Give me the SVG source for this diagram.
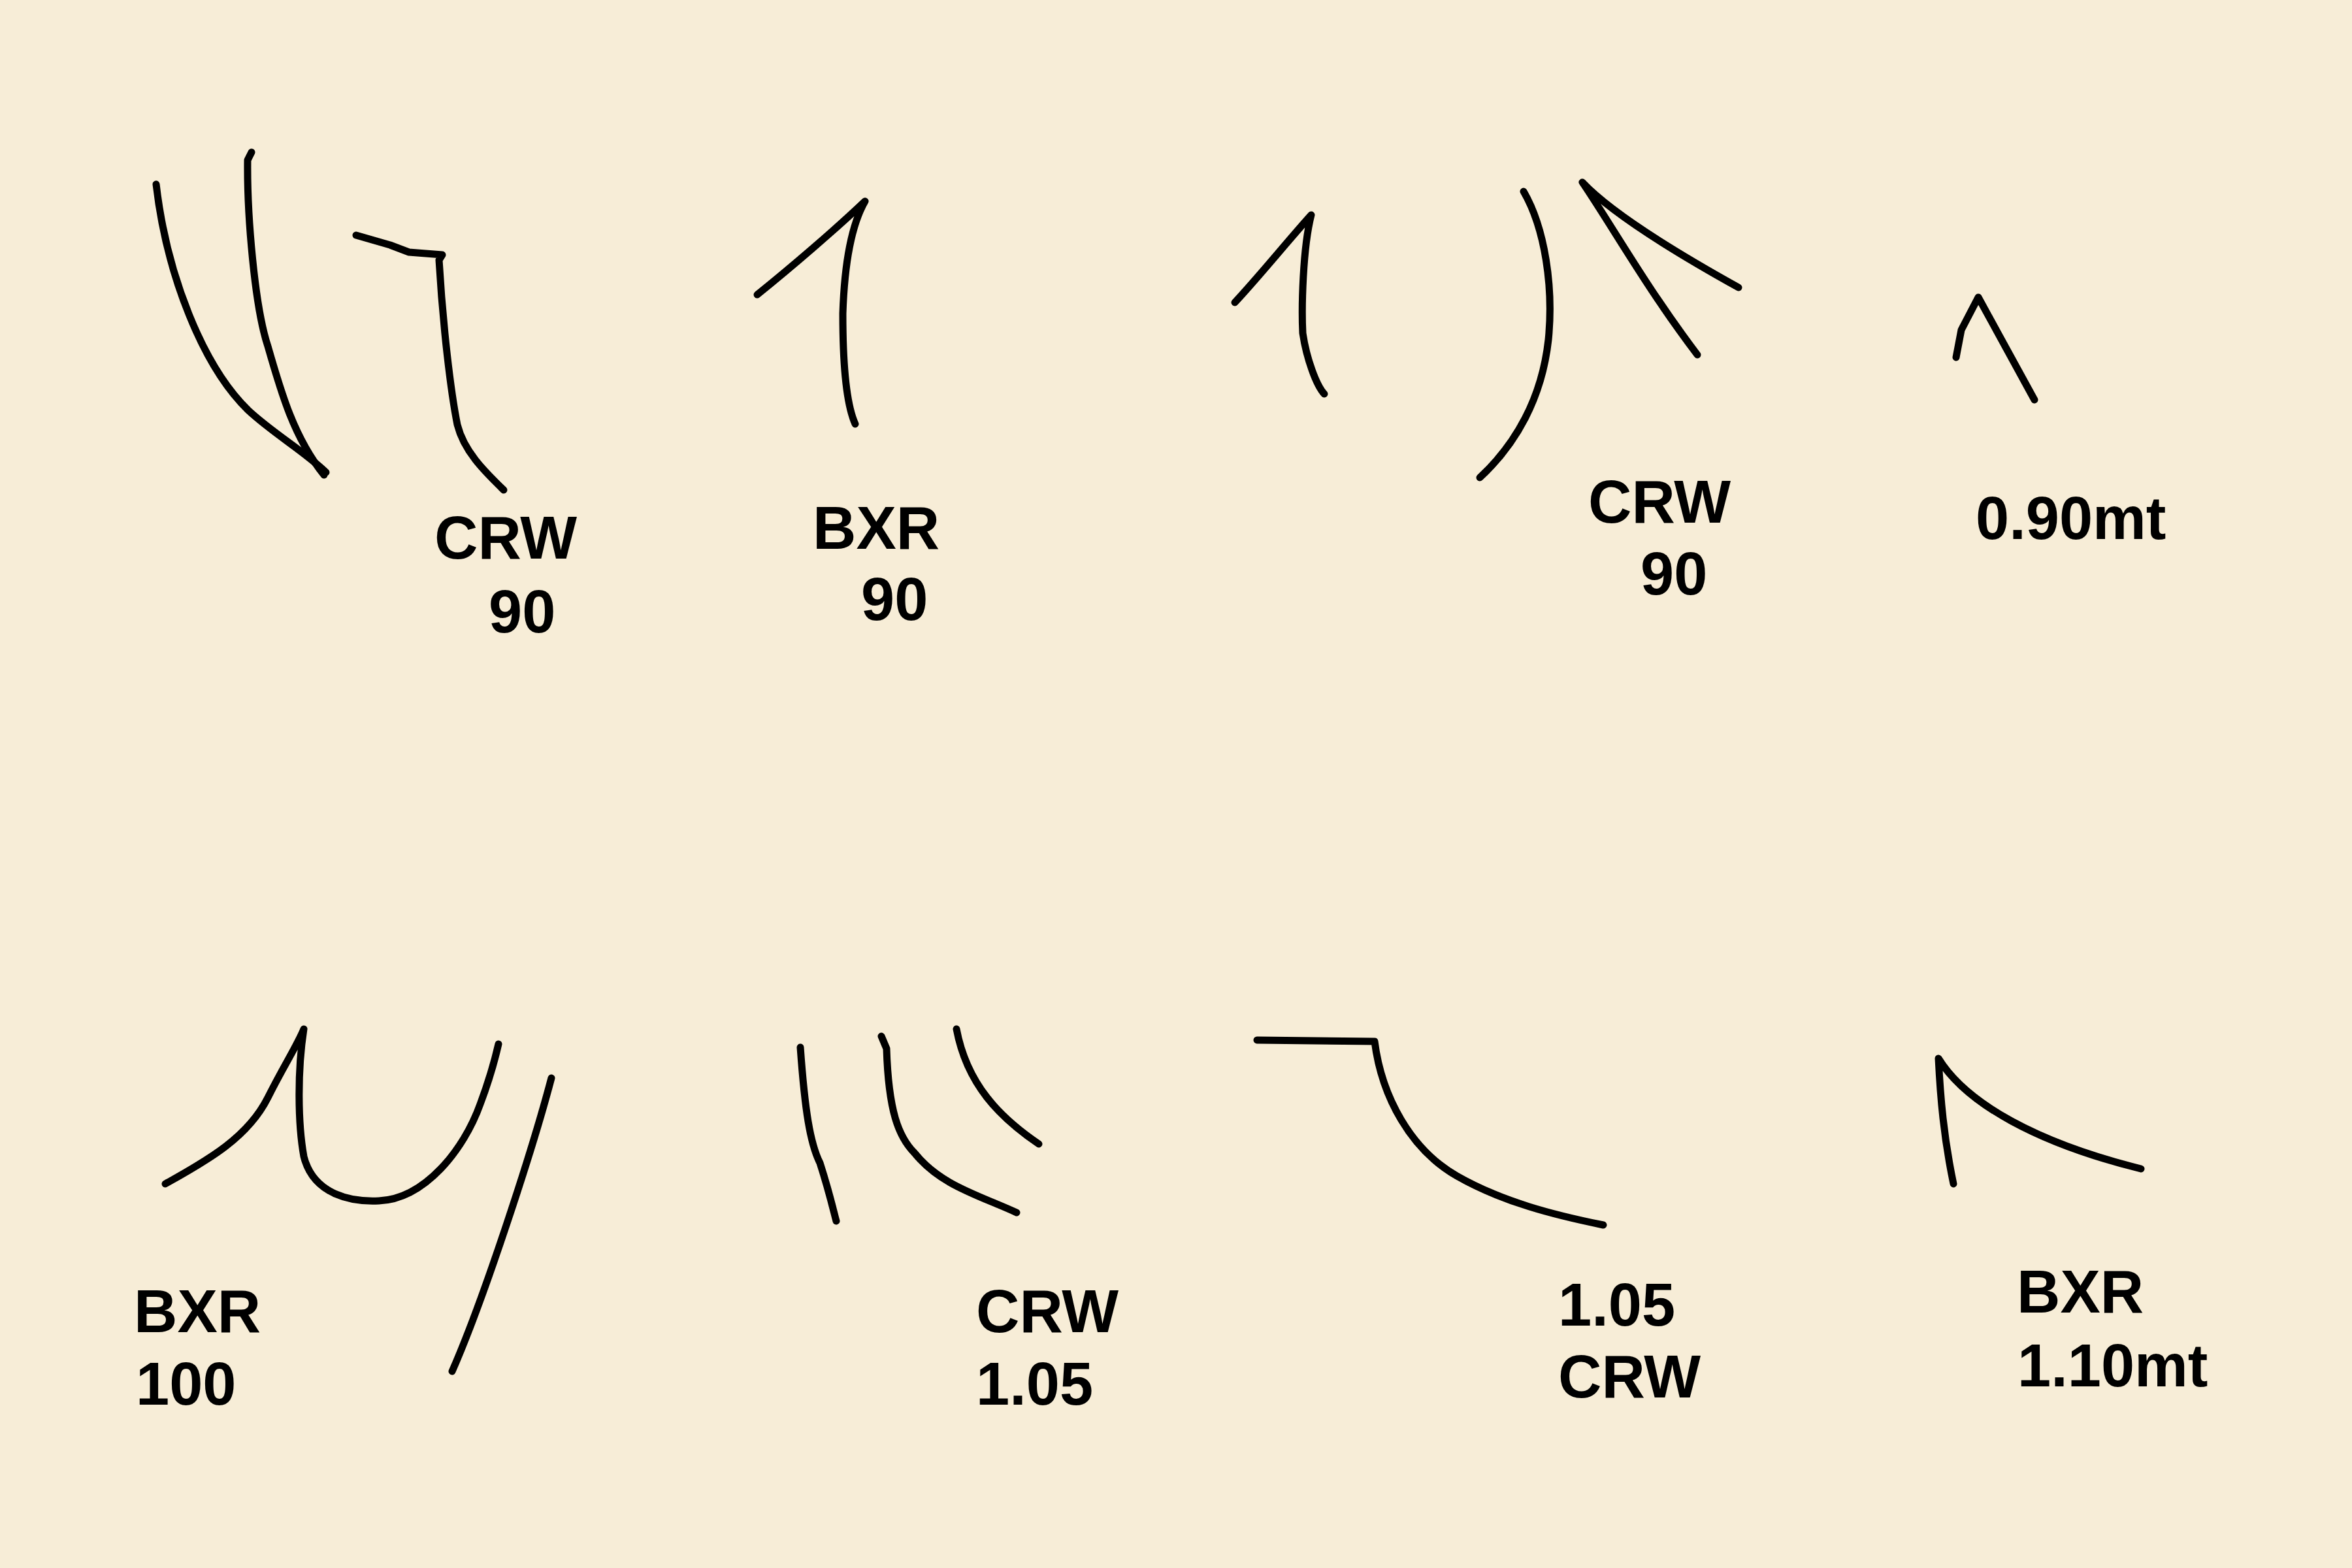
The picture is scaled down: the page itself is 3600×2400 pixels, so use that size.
<svg xmlns="http://www.w3.org/2000/svg" width="3600" height="2400" viewBox="0 0 3600 2400">
<style>
.s{fill:none;stroke:#000;stroke-width:11;stroke-linecap:round;stroke-linejoin:round}
.t{font-family:"Liberation Sans",Arial,sans-serif;font-weight:bold;font-size:92px;fill:#000}
</style>
<rect width="3600" height="2400" fill="#F7EDD7"/>
<g id="strokes">
<path class="s" d="M239,282 C255,420 310,560 380,628 C420,665 465,690 499,723"/>
<path class="s" d="M385,233 L379,245 C378,330 390,470 410,530 C430,600 450,670 496,727"/>
<path class="s" d="M545,360 L597,375 L626,386 L677,390 L672,398 C678,500 690,600 700,650 C710,690 740,720 771,750"/>
<path class="s" d="M1159,451 C1210,410 1280,350 1324,308 C1300,350 1292,420 1290,480 C1290,560 1296,620 1309,649"/>
<path class="s" d="M1890,463 C1930,420 1970,370 2007,329 C1994,380 1992,470 1994,510 C2000,550 2015,590 2027,603"/>
<path class="s" d="M2332,293 C2365,350 2378,440 2370,520 C2360,610 2320,680 2265,731"/>
<path class="s" d="M2661,440 C2580,395 2470,330 2422,279 C2470,350 2520,440 2598,543"/>
<path class="s" d="M2994,547 L3002,505 L3028,455 L3114,612"/>
<path class="s" d="M253,1812 C320,1775 380,1740 410,1680 C435,1630 455,1600 465,1575 C455,1640 456,1720 465,1770 C480,1830 540,1840 580,1838 C650,1835 710,1760 735,1690 C750,1650 758,1620 763,1598"/>
<path class="s" d="M844,1650 C815,1760 740,1990 692,2099"/>
<path class="s" d="M1225,1603 C1232,1700 1240,1750 1255,1780 C1268,1820 1275,1850 1280,1869"/>
<path class="s" d="M1349,1586 L1357,1605 C1360,1700 1375,1740 1400,1765 C1440,1815 1500,1830 1556,1856"/>
<path class="s" d="M1464,1575 C1480,1660 1530,1710 1590,1751"/>
<path class="s" d="M1924,1592 L2104,1594 C2115,1680 2160,1760 2230,1800 C2300,1840 2380,1860 2454,1875"/>
<path class="s" d="M2990,1812 C2975,1740 2970,1680 2967,1620 C3010,1690 3120,1750 3277,1789"/>
</g>
<g id="labels">
<text class="t" x="665" y="855">CRW</text>
<text class="t" x="748" y="968">90</text>
<text class="t" x="1244" y="840">BXR</text>
<text class="t" x="1318" y="949">90</text>
<text class="t" x="2431" y="800">CRW</text>
<text class="t" x="2511" y="910">90</text>
<text class="t" x="3024" y="825">0.90mt</text>
<text class="t" x="205" y="2039">BXR</text>
<text class="t" x="208" y="2150">100</text>
<text class="t" x="1494" y="2039">CRW</text>
<text class="t" x="1494" y="2150">1.05</text>
<text class="t" x="2385" y="2029">1.05</text>
<text class="t" x="2385" y="2139">CRW</text>
<text class="t" x="3087" y="2009">BXR</text>
<text class="t" x="3088" y="2122">1.10mt</text>
</g>
</svg>
